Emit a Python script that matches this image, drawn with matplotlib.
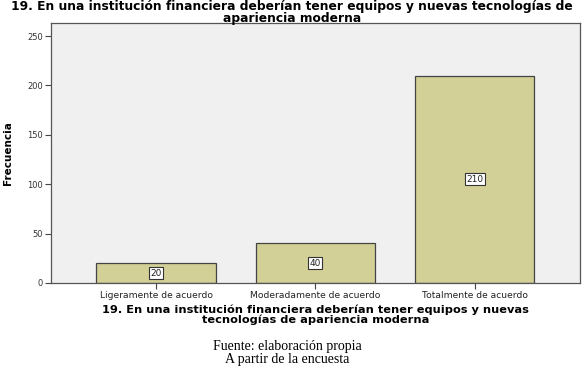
import matplotlib
matplotlib.use("Agg")
import matplotlib.pyplot as plt

# Data
categories = ["Ligeramente de acuerdo", "Moderadamente de acuerdo", "Totalmente de acuerdo"]
counts = [20, 40, 210]
yticks = [0, 50, 100, 150, 200, 250]

title = "19. En una institución financiera deberían tener equipos y nuevas tecnologías de\napariencia moderna"
xlabel = "19. En una institución financiera deberían tener equipos y nuevas\ntecnologías de apariencia moderna"

plt.rcParams['font.family'] = ['DejaVu Sans']

fig = plt.figure(figsize=(5.88, 3.68), dpi=100)
ax = fig.add_axes([0.0867, 0.231, 0.8993, 0.706])
ax.set_facecolor("#f0f0f0")

x = list(range(len(categories)))
ax.bar(x, counts, width=0.75, color="#d2cf97", edgecolor="#444444", linewidth=0.9, zorder=2)

for xi, c in zip(x, counts):
    ax.text(xi, c / 2, str(c), ha="center", va="center", fontsize=6.5, color="#222222",
            bbox=dict(boxstyle="square,pad=0.15", facecolor="white", edgecolor="#333333", linewidth=0.8),
            zorder=3)

ax.set_xlim(-0.66, 2.66)
ax.set_ylim(0, 263)
ax.set_xticks(x)
ax.set_xticklabels(categories, fontsize=6.6, color="#222222")
ax.set_yticks(yticks)
ax.set_yticklabels([str(t) for t in yticks], fontsize=6, color="#333333")
ax.tick_params(axis="both", direction="out", length=4, width=0.8, color="#444444", pad=2)

for s in ax.spines.values():
    s.set_color("#555555")
    s.set_linewidth(0.9)

ax.set_ylabel("Frecuencia", fontsize=7.5, fontweight="bold", labelpad=10)
ax.set_xlabel(xlabel, fontsize=8.2, fontweight="bold", labelpad=3, linespacing=0.95)

fig.text(0.497, 0.999, title, ha="center", va="top", fontsize=8.8, fontweight="bold",
         linespacing=0.82)

fig.text(0.488, 0.006, "Fuente: elaboración propia\nA partir de la encuesta", ha="center", va="bottom",
         fontsize=10, family="Liberation Serif", linespacing=1.0)

fig.savefig("out.png", dpi=100, facecolor="white")
